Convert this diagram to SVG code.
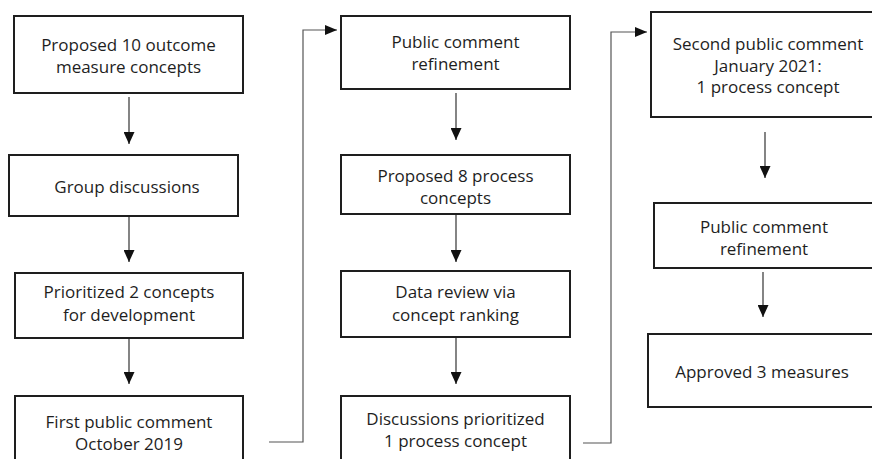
<svg xmlns="http://www.w3.org/2000/svg" width="872" height="459" viewBox="0 0 872 459">
<defs>
<style>
.box{fill:#fff;stroke:#1e1e1e;stroke-width:2}
.t{font-family:"Open Sans","Noto Sans","DejaVu Sans",sans-serif;font-size:17px;fill:#1e1e1e;text-anchor:middle}
.arr{stroke:#333;stroke-width:1.2;fill:none;marker-end:url(#ah)}
.lnk{stroke:#555;stroke-width:1.2;fill:none}
</style>
<marker id="ah" viewBox="0 0 12 11" refX="12" refY="5.5" markerWidth="12" markerHeight="11" markerUnits="userSpaceOnUse" orient="auto">
<path d="M0,0 L12,5.5 L0,11 Z" fill="#111"/>
</marker>
<marker id="ah2" viewBox="0 0 12 10" refX="12" refY="5" markerWidth="12" markerHeight="10" markerUnits="userSpaceOnUse" orient="auto">
<path d="M0,0 L12,5 L0,10 Z" fill="#111"/>
</marker>
</defs>
<rect width="872" height="459" fill="#fff"/>

<g id="n1"><rect class="box" x="14" y="16" width="229" height="77"/>
<text class="t" x="128.5" y="51">Proposed 10 outcome</text><text class="t" x="128.5" y="73">measure concepts</text></g>
<g id="n2"><rect class="box" x="9" y="155" width="229" height="61"/>
<text class="t" x="127" y="193">Group discussions</text></g>
<g id="n3"><rect class="box" x="15" y="273" width="228" height="65"/>
<text class="t" x="129" y="298">Prioritized 2 concepts</text><text class="t" x="129" y="321">for development</text></g>
<g id="n4"><rect class="box" x="15" y="396" width="228" height="80"/>
<text class="t" x="129" y="428">First public comment</text><text class="t" x="129" y="450">October 2019</text></g>

<g id="n5"><rect class="box" x="341" y="16" width="229" height="73"/>
<text class="t" x="455.5" y="48">Public comment</text><text class="t" x="455.5" y="70">refinement</text></g>
<g id="n6"><rect class="box" x="341" y="155" width="229" height="59"/>
<text class="t" x="455.5" y="182">Proposed 8 process</text><text class="t" x="455.5" y="204">concepts</text></g>
<g id="n7"><rect class="box" x="341" y="271" width="229" height="66"/>
<text class="t" x="455.5" y="298">Data review via</text><text class="t" x="455.5" y="321">concept ranking</text></g>
<g id="n8"><rect class="box" x="341" y="396" width="229" height="80"/>
<text class="t" x="455.5" y="425">Discussions prioritized</text><text class="t" x="455.5" y="447">1 process concept</text></g>

<g id="n9"><rect class="box" x="651" y="12" width="240" height="105"/>
<text class="t" x="768" y="50">Second public comment</text><text class="t" x="768" y="72">January 2021:</text><text class="t" x="768" y="93">1 process concept</text></g>
<g id="n10"><rect class="box" x="654" y="203" width="240" height="65"/>
<text class="t" x="764" y="233">Public comment</text><text class="t" x="764" y="255">refinement</text></g>
<g id="n11"><rect class="box" x="648" y="334" width="240" height="73"/>
<text class="t" x="762" y="378">Approved 3 measures</text></g>

<g id="connectors">
<line class="arr" x1="129" y1="97" x2="129" y2="144"/>
<line class="arr" x1="129" y1="217" x2="129" y2="262"/>
<line class="arr" x1="129" y1="339" x2="129" y2="384"/>
<line class="arr" x1="456" y1="93" x2="456" y2="140"/>
<line class="arr" x1="456" y1="215" x2="456" y2="262"/>
<line class="arr" x1="456" y1="338" x2="456" y2="384"/>
<line class="arr" x1="765" y1="132" x2="765" y2="178"/>
<line class="arr" x1="763" y1="272" x2="763" y2="317"/>
<path class="lnk" d="M269,442 H303 V30 H337" marker-end="url(#ah2)"/>
<path class="lnk" d="M583,443 H611 V32 H647" marker-end="url(#ah2)"/>
</g>
</svg>
